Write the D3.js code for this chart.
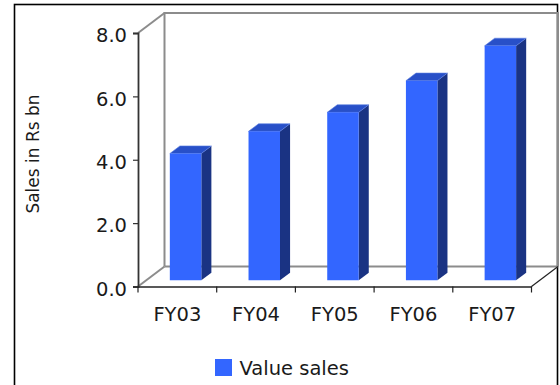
<!DOCTYPE html>
<html>
<head>
<meta charset="utf-8">
<script src="https://cdn.jsdelivr.net/npm/d3@7"></script>
<style>
  html, body { margin: 0; padding: 0; background: #fff; }
  svg { display: block; }
  text { font-family: "DejaVu Sans", sans-serif; fill: #1a1a1a; }
</style>
</head>
<body>
<svg id="chart" width="560" height="385"></svg>
<script>
// Yearly value sales, Rs bn
const categories = ["FY03", "FY04", "FY05", "FY06", "FY07"];
const valueSales = [4.0, 4.7, 5.3, 6.3, 7.4];
const yTicks = [0, 2, 4, 6, 8];
const seriesName = "Value sales";
const yTitle = "Sales in Rs bn";

const svg = d3.select("#chart");

// Outer frame
svg.append("rect")
  .attr("x", 14.5).attr("y", 4.5)
  .attr("width", 543).attr("height", 400)
  .attr("fill", "none").attr("stroke", "#000").attr("stroke-width", 1.6);

// Scales for the front plane; depth is added as an oblique offset
const x = d3.scaleBand().domain(categories).range([138, 531.5]).padding(0);
const y = d3.scaleLinear().domain([0, 8]).range([286.5, 33]);
const DX = 26.5, DY = -20;
const P = (px, v, f) => [px + f * DX, y(v) + f * DY];
const pts = a => a.map(p => p.join(",")).join(" ");

const [x0, x1] = x.range();
const wall = svg.append("g").attr("fill", "none");

// Back wall and floor (grey edges)
wall.append("polyline")
  .attr("points", pts([P(x0, 0, 1), P(x0, 8, 1), P(x1, 8, 1), P(x1, 0, 1)]))
  .attr("stroke", "#8c8c8c").attr("stroke-width", 2);
wall.append("line")
  .attr("x1", P(x0, 0, 1)[0]).attr("y1", P(x0, 0, 1)[1])
  .attr("x2", P(x1, 0, 1)[0]).attr("y2", P(x1, 0, 1)[1])
  .attr("stroke", "#8c8c8c").attr("stroke-width", 2);
wall.append("line")
  .attr("x1", P(x0, 8, 0)[0]).attr("y1", P(x0, 8, 0)[1])
  .attr("x2", P(x0, 8, 1)[0]).attr("y2", P(x0, 8, 1)[1])
  .attr("stroke", "#8c8c8c").attr("stroke-width", 2);
wall.append("line")
  .attr("x1", P(x0, 0, 0)[0]).attr("y1", P(x0, 0, 0)[1])
  .attr("x2", P(x0, 0, 1)[0]).attr("y2", P(x0, 0, 1)[1])
  .attr("stroke", "#8c8c8c").attr("stroke-width", 2);
wall.append("line")
  .attr("x1", P(x1, 0, 0)[0]).attr("y1", P(x1, 0, 0)[1])
  .attr("x2", P(x1, 0, 1)[0]).attr("y2", P(x1, 0, 1)[1])
  .attr("stroke", "#222").attr("stroke-width", 1.2);

// 3D bars
const F0 = 0.31, F1 = 0.69;
const bw = x.bandwidth() * 0.4;
const bars = svg.append("g");
categories.forEach((c, i) => {
  const v = valueSales[i];
  const xc = x(c) + x.bandwidth() / 2;
  const a = xc - bw / 2, b = xc + bw / 2;
  bars.append("polygon")
    .attr("points", pts([P(b, 0, F0), P(b, 0, F1), P(b, v, F1), P(b, v, F0)]))
    .attr("fill", "#1a3383");
  bars.append("polygon")
    .attr("points", pts([P(a, v, F0), P(b, v, F0), P(b, v, F1), P(a, v, F1)]))
    .attr("fill", "#2850c8").attr("stroke", "#5b7de0").attr("stroke-width", 0.6);
  bars.append("polygon")
    .attr("points", pts([P(a, 0, F0), P(b, 0, F0), P(b, v, F0), P(a, v, F0)]))
    .attr("fill", "#3366ff");
});

// Y axis
const yAxis = svg.append("g")
  .attr("transform", `translate(${x0},0)`)
  .call(d3.axisLeft(y).tickValues(yTicks).tickFormat(d3.format(".1f")).tickSize(5).tickPadding(6));
yAxis.select(".domain").attr("stroke", "#333").attr("stroke-width", 1.8);
yAxis.selectAll(".tick line").attr("stroke", "#333").attr("stroke-width", 1.2);
yAxis.selectAll(".tick text")
  .attr("font-size", 19.5)
  .attr("font-family", "DejaVu Sans").attr("fill", "#1a1a1a")
  .attr("dy", "0.45em");

// X axis: labels centred in bands, tick marks on band edges
const xAxis = svg.append("g")
  .attr("transform", `translate(0,${y(0)})`)
  .call(d3.axisBottom(x).tickSize(0).tickPadding(21));
xAxis.select(".domain").attr("stroke", "#222").attr("stroke-width", 1.5);
xAxis.selectAll(".tick text")
  .attr("font-size", 19.5)
  .attr("font-family", "DejaVu Sans").attr("fill", "#1a1a1a");
const edges = categories.map(c => x(c)).concat([x1]);
svg.append("g").selectAll("line").data(edges).join("line")
  .attr("x1", d => d).attr("x2", d => d)
  .attr("y1", y(0)).attr("y2", y(0) + 6)
  .attr("stroke", "#222").attr("stroke-width", 1.2);

// Y axis title
svg.append("text")
  .attr("transform", "translate(38.5,154) rotate(-90)")
  .attr("text-anchor", "middle")
  .attr("font-size", 17)
  .text(yTitle);

// Legend
const lg = svg.append("g");
lg.append("rect").attr("x", 215).attr("y", 359).attr("width", 17).attr("height", 17).attr("fill", "#3366ff");
lg.append("text").attr("x", 239.5).attr("y", 374.5)
  .attr("font-size", 19.5)
  .text(seriesName);
</script>
</body>
</html>
